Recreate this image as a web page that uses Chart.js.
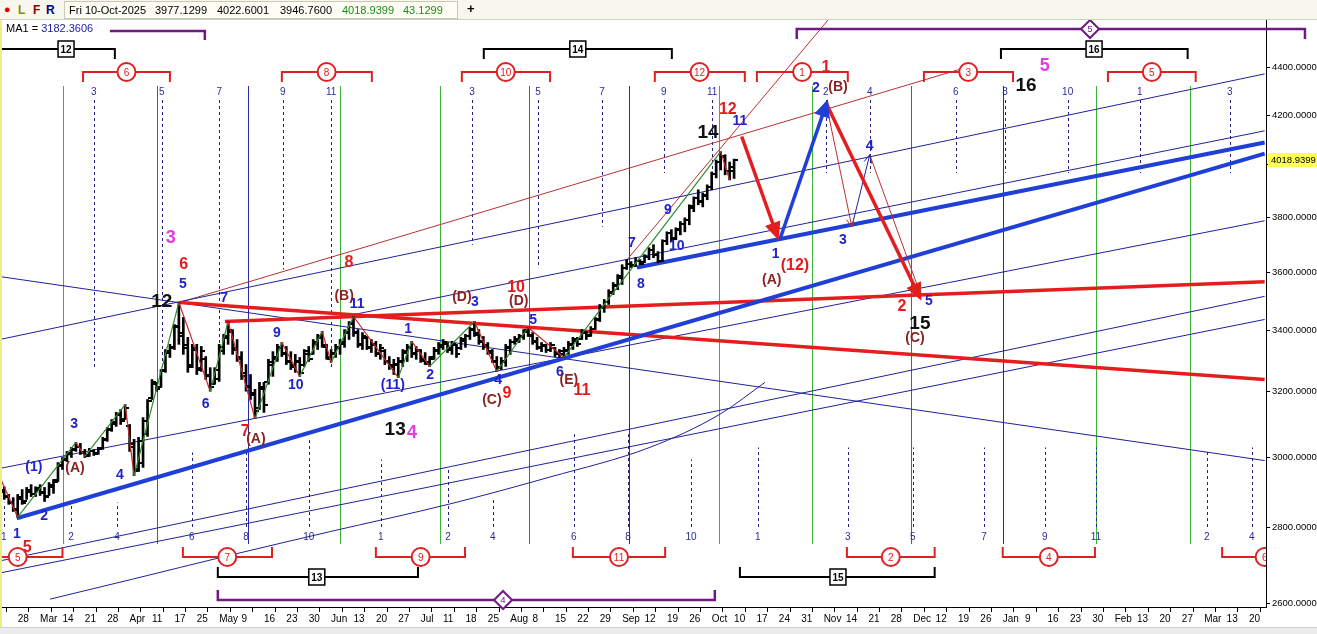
<!DOCTYPE html>
<html lang="en">
<head>
<meta charset="UTF-8" />
<meta name="viewport" content="width=device-width, initial-scale=1.0" />
<title>Wave Count - Daily</title>
<script src="https://cdn.jsdelivr.net/npm/chart.js"></script>
<style>
  body { margin: 0; background: #fff; font-family: "Liberation Sans", Arial, sans-serif; }
  #wrap { position: relative; width: 1317px; height: 634px; overflow: hidden; }
  #chart { position: absolute; left: 0; top: 0; }
  #toolbar { position: absolute; left: 0; top: 0; width: 1317px; height: 19px; background: #f7f7ee; border-bottom: 1px solid #cfcfc0; font-size: 11px; }
  #toolbar span { position: absolute; top: 3px; white-space: nowrap; }
  #quote { position: absolute; left: 64px; top: 1px; width: 392px; height: 16px; background: #fdfdf3; border: 1px solid #c8c8b8; }
  #quote span { top: 2px; }
  #ma { position: absolute; left: 6px; top: 22px; font-size: 11px; color: #000; }
  #ma b { font-weight: normal; color: #1a1aa0; }
  #frameL { position: absolute; left: 0; top: 20px; width: 2px; height: 614px; background: #eeee88; }
  #status { position: absolute; left: 0; top: 627px; width: 1317px; height: 7px; background: #ececec; border-top: 1px solid #d0d0d0; }
</style>
</head>
<body>
<div id="wrap">
  <canvas id="chart" width="1317" height="634"></canvas>
  <div id="toolbar">
    <span style="left:4px;color:#e00000">●</span>
    <span style="left:18px;color:#8c8c00;font-weight:bold;font-size:12px">L</span>
    <span style="left:33px;color:#8b0000;font-weight:bold;font-size:12px">F</span>
    <span style="left:46px;color:#00007a;font-weight:bold;font-size:12px">R</span>
    <div id="quote">
      <span style="left:4px">Fri 10-Oct-2025</span>
      <span style="left:90px">3977.1299</span>
      <span style="left:152px">4022.6001</span>
      <span style="left:215px">3946.7600</span>
      <span style="left:277px;color:#1e8c1e">4018.9399</span>
      <span style="left:338px;color:#1e8c1e">43.1299</span>
    </div>
    <span style="left:467px;font-weight:bold;font-size:13px;top:1px">+</span>
  </div>
  <div id="ma">MA1 = <b>3182.3606</b></div>
  <div id="frameL"></div>
  <div id="status"></div>
</div>

<script>
  // daily bars, first bar is 4 sessions before Fri 28-Feb-2025 (day 0)
  const dayStart = -4;
  const barOpen = [
    2935,2905,2888,2870,2848,2880,2875,2900,2895,2905,
    2900,2890,2915,2935,2975,2995,3010,3022,3030,3012,
    3006,3018,3012,3028,3052,3082,3100,3128,3115,3095,
    3040,2965,2985,3070,3180,3225,3215,3268,3325,3340,
    3415,3390,3350,3285,3335,3275,3305,3255,3225,3240,
    3330,3375,3395,3340,3310,3260,3220,3195,3150,3210,
    3230,3285,3305,3340,3325,3300,3285,3295,3285,3320,
    3322,3355,3380,3345,3305,3320,3340,3355,3390,3425,
    3395,3350,3375,3340,3350,3325,3330,3300,3285,3285,
    3295,3325,3340,3325,3330,3305,3290,3310,3330,3345,
    3355,3340,3350,3340,3365,3380,3405,3385,3365,3350,
    3325,3295,3280,3295,3340,3360,3365,3378,3400,3380,
    3365,3340,3348,3335,3340,3325,3320,3330,3350,3365,
    3370,3390,3385,3405,3435,3475,3495,3525,3550,3580,
    3615,3630,3625,3638,3635,3655,3680,3662,3640,3710,
    3740,3722,3752,3775,3790,3835,3870,3858,3880,3915,
    3965,4010,4030,3975,3977.13
  ];
  const barHigh = [
    2944,2915,2893,2884,2893,2907,2913,2921,2915,2921,
    2913,2927,2936,2985,3000,3018,3030,3045,3042,3024,
    3027,3024,3030,3060,3090,3114,3136,3145,3160,3099,
    3054,3060,3120,3176,3239,3230,3271,3336,3353,3419,
    3494,3443,3376,3353,3353,3346,3313,3277,3277,3353,
    3386,3429,3402,3369,3329,3287,3255,3208,3230,3230,
    3304,3329,3353,3359,3346,3329,3320,3310,3336,3346,
    3369,3386,3396,3353,3336,3353,3369,3402,3429,3446,
    3402,3392,3379,3369,3363,3353,3336,3313,3304,3310,
    3336,3353,3363,3346,3336,3326,3313,3343,3359,3369,
    3359,3363,3353,3376,3386,3409,3429,3402,3379,3359,
    3336,3313,3310,3353,3369,3379,3386,3402,3409,3392,
    3376,3359,3353,3359,3343,3336,3343,3363,3376,3376,
    3402,3396,3412,3443,3487,3504,3538,3563,3591,3626,
    3644,3637,3651,3644,3662,3687,3698,3673,3716,3745,
    3753,3760,3783,3797,3846,3876,3903,3891,3922,3972,
    4019,4052,4040,4011,4022.60
  ];
  const barLow = [
    2893,2879,2865,2845,2829,2865,2879,2887,2887,2890,
    2873,2890,2896,2930,2965,2988,3000,3018,3009,3000,
    3003,3006,3009,3024,3048,3078,3093,3099,3114,3018,
    2947,2959,2971,3063,3176,3202,3214,3262,3310,3336,
    3353,3320,3262,3277,3255,3265,3239,3202,3224,3233,
    3320,3353,3320,3297,3239,3202,3176,3117,3145,3136,
    3224,3249,3297,3313,3287,3271,3262,3249,3281,3297,
    3320,3336,3343,3304,3294,3310,3320,3343,3369,3379,
    3343,3336,3336,3326,3313,3304,3287,3271,3255,3245,
    3281,3297,3310,3304,3294,3287,3281,3304,3320,3336,
    3326,3320,3310,3336,3343,3369,3379,3353,3336,3320,
    3294,3265,3271,3281,3320,3353,3359,3369,3379,3353,
    3336,3329,3326,3329,3313,3310,3310,3320,3336,3346,
    3369,3369,3379,3402,3429,3460,3487,3521,3538,3556,
    3609,3616,3619,3626,3633,3644,3651,3633,3637,3698,
    3709,3716,3734,3745,3771,3820,3846,3838,3865,3903,
    3949,3980,3961,3941,3946.76
  ];
  const barClose = [
    2900,2885,2872,2852,2885,2870,2905,2895,2910,2898,
    2885,2920,2930,2978,2992,3012,3025,3030,3015,3005,
    3020,3010,3026,3055,3085,3108,3130,3110,3150,3030,
    2960,3050,3110,3170,3230,3210,3265,3330,3345,3410,
    3380,3340,3280,3340,3270,3330,3250,3215,3270,3345,
    3380,3400,3335,3305,3250,3215,3190,3140,3215,3160,
    3295,3310,3345,3320,3295,3280,3300,3260,3330,3305,
    3360,3375,3350,3310,3325,3345,3360,3395,3420,3390,
    3355,3380,3345,3355,3320,3340,3295,3280,3290,3300,
    3330,3345,3320,3335,3300,3295,3305,3335,3350,3360,
    3335,3355,3320,3370,3380,3400,3390,3360,3345,3330,
    3300,3275,3300,3345,3360,3370,3380,3395,3385,3360,
    3345,3350,3335,3350,3320,3330,3335,3355,3370,3355,
    3395,3380,3405,3438,3480,3495,3530,3555,3585,3615,
    3630,3622,3640,3630,3655,3680,3660,3640,3710,3740,
    3720,3755,3775,3790,3840,3870,3860,3885,3915,3965,
    4010,4035,3975,3990,4018.94
  ];
  const lastPrice = 4018.9399;

  // MA1 curve [day, price]
  const ma1 = [[7.2,2610],[25.7,2662],[47,2724],[69.7,2789],[96.5,2866],[118.9,2943],
    [141.2,3030],[156.8,3130],[166.9,3230]];

  // weekly axis labels, one every 5 sessions from 28-Feb-2025
  const weekLabels = ['28','Mar','14','21','28','Apr','11','17','25','May','9','16','23','30',
    'Jun','13','20','27','Jul','11','18','25','Aug','8','15','22','29','Sep','12','19','26',
    'Oct','10','17','24','31','Nov','14','21','28','Dec','12','19','26','Jan','9','16','23','30',
    'Feb','13','20','27','Mar','13','20'];
  const priceTicks = [2600, 2800, 3000, 3200, 3400, 3600, 3800, 4000, 4200, 4400];

  // wave pivots [day, price]
  const wavePivots = [[-4,2944],[0,2829],[13,3045],[15,3003],[24,3160],[26,2947],[36,3494],
    [43,3202],[47,3429],[53,3117],[59,3359],[63,3249],[68,3396],[70,3294],[75,3446],[85,3245],
    [88,3363],[92,3281],[102,3429],[107,3265],[114,3409],[122,3310],[157,4052],[159,3941]];

  // trend lines [day, price] end points
  const blueThickLow = [[-0.2,2826],[278.5,4044]];
  const blueThickHigh = [[138.3,3616],[278.5,4089]];
  const blueThinA = [[-4,2968],[278.5,3786]];
  const blueThinB = [[-4,3369],[278.5,4374]];
  const blueThinC = [[-4,3584],[278.5,2991]];
  const blueThinD = [[74.2,3450],[278.5,4136]];
  const blueThinE1 = [[-4,2710],[278.5,3515]];
  const blueThinE2 = [[-4,2678],[278.5,3436]];
  const redThinF = [[36.2,3494],[211.5,4400]];
  const redThinG = [[136.1,3644],[181.4,4622]];
  const redThickR1 = [[36.2,3494],[278.5,3239]];
  const redThickR2 = [[46.3,3429],[278.5,3566]];

  // projected path
  const projA = [[161.7,4113],[169.7,3727]];
  const projB = [[170.2,3716],[180.7,4252]];
  const projC = [[180.7,4244],[201.5,3511]];
  const projSub1 = [[180.7,4236],[186.3,3764]];
  const projSub2 = [[186.3,3764],[190.3,4040]];
  const projSub3 = [[190.3,4040],[201.5,3528]];

  // time cycle markers
  const greenDays = [10.1, 72, 94.3, 156.6, 177.4, 240.8, 261.8];
  const redDays = [31.1, 114.2, 199.5];
  const blueDays = [51.4, 136.5, 220];
  const topCycles = [[17,'3',3271],[32.2,'5',3271],[45,'7',3271],[59.2,'9',3609],[70,'11',3271],
    [101.5,'3',3698],[116.2,'5',3619],[130.5,'7',3764],[144.3,'9',3968],[155.1,'11',3968],
    [180.5,'2',3968],[190.3,'4',3968],[209.5,'6',3968],[220.5,'8',3968],[234.5,'10',3968],
    [250.6,'1',3968],[270.7,'3',3968]];
  const bottomCycles = [[-3.1,'1',2870],[11.9,'2',2870],[22.2,'4',2870],[38.9,'6',3015],
    [51,'8',3015],[65,'10',3054],[81.1,'1',2994],[96.1,'2',2965],[106.1,'4',2879],[124.2,'6',3069],
    [136.3,'8',3069],[150.4,'10',2994],[165.3,'1',3030],[185.4,'3',3030],[199.9,'5',3030],
    [215.8,'7',3030],[229.4,'9',3030],[240.8,'11',3030],[265.6,'2',3024],[275.6,'4',3030]];

  // brackets [start day, end day, label day, text]
  const topRed = [[14.6,34,24.3,'6'],[59,79.1,69,'8'],[99.2,118.9,109,'10'],[142.3,162.4,152.3,'12'],
    [165.1,185.4,175.2,'1'],[202.4,222.3,212.3,'3'],[243.5,263.1,253.3,'5']];
  const bottomRed = [[-10,10,0,'5'],[36.9,56.8,46.8,'7'],[80,99.9,90,'9'],[124,144.6,134.3,'11'],
    [185.2,204.8,195,'2'],[220,240.6,230.3,'4'],[269,288,278.5,'6']];
  const topBlack = [[-12,21.7,10.8,'12'],[104.1,146.1,125.1,'14'],[219.6,261.3,240.4,'16']];
  const bottomBlack = [[44.7,89.4,66.8,'13'],[161.3,204.8,183.2,'15']];
  const topPurple = [[174,287.5,239.5,'5']];
  const bottomPurple = [[44.7,155.7,108.4,'4']];
  const maBracket = [20.6, 41.8];

  // wave labels [day, price, text, style]
  const waveLabels = [
    [-0.2,2783,'1','blue'],[2.1,2745,'5','red'],[5.9,2832,'2','blue'],[3.6,2971,'(1)','blue'],
    [12.8,2968,'(A)','brown'],[12.6,3099,'3','blue'],[22.8,2947,'4','blue'],[34.2,3723,'3','pink'],
    [37.1,3626,'6','red'],[36.9,3556,'5','blue'],[32.2,3497,'12','black'],[46.1,3508,'7','blue'],
    [42,3160,'6','blue'],[50.8,3078,'7','red'],[53.2,3054,'(A)','brown'],[57.9,3389,'9','blue'],
    [62.1,3220,'10','blue'],[74,3633,'8','red'],[72.9,3515,'(B)','brown'],[75.8,3487,'11','blue'],
    [87.2,3405,'1','blue'],[83.8,3220,'(11)','blue'],[92.1,3252,'2','blue'],[84.3,3084,'13','black'],
    [88.05,3072,'4','pink'],[99.2,3511,'(D)','brown'],[102.1,3494,'3','blue'],[111.3,3545,'10','red'],
    [111.9,3497,'(D)','brown'],[115.1,3433,'5','blue'],[107.3,3236,'4','blue'],[105.9,3173,'(C)','brown'],
    [109.3,3195,'9','red'],[121.1,3262,'6','blue'],[123.1,3236,'(E)','brown'],[126,3205,'11','red'],
    [137.2,3702,'7','blue'],[139.2,3559,'8','blue'],[145.2,3827,'9','blue'],[147.2,3694,'10','blue'],
    [154.2,4130,'14','black'],[158.6,4222,'12','red'],[161.3,4175,'11','blue'],[169.3,3665,'1','blue'],
    [173.6,3623,'(12)','red'],[168.4,3570,'(A)','brown'],[178.3,4312,'2','blue'],[183.2,4316,'(B)','brown'],
    [180.5,4400,'1','red'],[190.3,4075,'4','blue'],[184.3,3713,'3','blue'],[197.5,3480,'2','red'],
    [203.5,3497,'5','blue'],[201.5,3422,'15','black'],[200.4,3372,'(C)','brown'],[225.2,4324,'16','black'],
    [229.4,4409,'5','pink']
  ];

  const FONT = '"Liberation Sans", Arial, sans-serif';
  const labelStyle = {
    blue: ['bold 14px ' + FONT, '#2222cc'],
    brown: ['bold 14px ' + FONT, '#8a2222'],
    red: ['bold 16px ' + FONT, '#e41b1b'],
    black: ['bold 19px ' + FONT, '#111111'],
    pink: ['bold 18px ' + FONT, '#e03ce0']
  };

  const toXY = a => a.map(p => ({ x: p[0], y: p[1] }));
  function lineSet(points, color, width, order, extra) {
    return Object.assign({
      type: 'line', data: toXY(points), borderColor: color, borderWidth: width,
      pointRadius: 0, fill: false, tension: 0, order: order
    }, extra || {});
  }

  const navy = '#20209a', royal = '#1f3fd6', red = '#e41e1e', thinRed = '#b83030';
  const datasets = [
    {
      type: 'bar',
      data: barLow.map((lo, i) => ({ x: dayStart + i, y: [lo, barHigh[i]] })),
      backgroundColor: '#000', borderWidth: 0, barThickness: 2, grouped: false, order: 3
    },
    lineSet(wavePivots, '#2e8b2e', 1.2, 1, {
      segment: { borderColor: c => c.p1.parsed.y >= c.p0.parsed.y ? '#2e8b2e' : '#c62828' }
    }),
    lineSet(ma1, navy, 1, 5, { tension: 0.4, cubicInterpolationMode: 'monotone' }),
    lineSet(blueThickLow, royal, 4, 4),
    lineSet(blueThickHigh, royal, 4, 4),
    lineSet(blueThinA, navy, 1, 5),
    lineSet(blueThinB, navy, 1, 5),
    lineSet(blueThinC, navy, 1, 5),
    lineSet(blueThinD, navy, 1, 5),
    lineSet(blueThinE1, navy, 1, 5),
    lineSet(blueThinE2, navy, 1, 5),
    lineSet(redThinF, thinRed, 1, 5),
    lineSet(redThinG, thinRed, 1, 5),
    lineSet(redThickR1, red, 3.5, 4),
    lineSet(redThickR2, red, 3.5, 4),
    lineSet(projA, red, 3.5, 0, { arrow: 'solid' }),
    lineSet(projB, royal, 3.5, 0, { arrow: 'solid' }),
    lineSet(projC, red, 3.5, 0, { arrow: 'solid' }),
    lineSet(projSub1, thinRed, 1, 0, { arrow: 'open' }),
    lineSet(projSub2, navy, 1, 0, { arrow: 'open' }),
    lineSet(projSub3, thinRed, 1, 0, { arrow: 'open' })
  ];

  function bracket(ctx, x1, x2, y, dir, color, width) {
    ctx.strokeStyle = color;
    ctx.lineWidth = width;
    ctx.beginPath();
    ctx.moveTo(x1, y + dir * 10);
    ctx.lineTo(x1, y);
    ctx.lineTo(x2, y);
    ctx.lineTo(x2, y + dir * 10);
    ctx.stroke();
  }

  const overlay = {
    id: 'overlay',
    beforeDatasetsDraw(chart) {
      const { ctx, chartArea: a, scales: { x, y } } = chart;
      ctx.save();
      ctx.lineWidth = 1;
      [[greenDays, '#3cb43c'], [redDays, '#c83232'], [blueDays, '#2a2aa8']].forEach(([list, color]) => {
        ctx.strokeStyle = color;
        list.forEach(d => {
          const px = Math.round(x.getPixelForValue(d)) + 0.5;
          ctx.beginPath(); ctx.moveTo(px, a.top + 66); ctx.lineTo(px, a.bottom - 63); ctx.stroke();
        });
      });
      ctx.strokeStyle = '#20208a';
      ctx.setLineDash([3, 3]);
      topCycles.forEach(([d, t, p]) => {
        const px = Math.round(x.getPixelForValue(d)) + 0.5;
        ctx.beginPath(); ctx.moveTo(px, a.top + 80); ctx.lineTo(px, y.getPixelForValue(p)); ctx.stroke();
      });
      bottomCycles.forEach(([d, t, p]) => {
        const px = Math.round(x.getPixelForValue(d)) + 0.5;
        ctx.beginPath(); ctx.moveTo(px, a.bottom - 80); ctx.lineTo(px, y.getPixelForValue(p)); ctx.stroke();
      });
      ctx.setLineDash([]);
      ctx.fillStyle = '#2a2a9a';
      ctx.font = '10px ' + FONT;
      ctx.textAlign = 'center';
      ctx.textBaseline = 'middle';
      topCycles.forEach(([d, t]) => ctx.fillText(t, x.getPixelForValue(d), a.top + 72));
      bottomCycles.forEach(([d, t]) => ctx.fillText(t, x.getPixelForValue(d), a.bottom - 70));
      ctx.restore();
    },
    afterDatasetDraw(chart, args) {
      if (args.index !== 0) return;
      const { ctx, scales: { x, y } } = chart;
      ctx.save();
      ctx.fillStyle = '#000';
      barOpen.forEach((o, i) => {
        const px = Math.round(x.getPixelForValue(dayStart + i));
        ctx.fillRect(px - 4, Math.round(y.getPixelForValue(o)) - 1, 4, 2);
        ctx.fillRect(px, Math.round(y.getPixelForValue(barClose[i])) - 1, 4, 2);
      });
      ctx.restore();
    },
    afterDatasetsDraw(chart) {
      const { ctx, chartArea: a, scales: { x, y } } = chart;
      ctx.save();
      // arrow heads
      chart.data.datasets.forEach((ds, i) => {
        if (!ds.arrow) return;
        const pts = chart.getDatasetMeta(i).data;
        const p0 = pts[pts.length - 2], p1 = pts[pts.length - 1];
        const ang = Math.atan2(p1.y - p0.y, p1.x - p0.x);
        const len = ds.arrow === 'solid' ? 14 : 9, spread = ds.arrow === 'solid' ? 0.42 : 0.45;
        ctx.strokeStyle = ds.borderColor; ctx.fillStyle = ds.borderColor;
        ctx.lineWidth = ds.arrow === 'solid' ? 3 : 1;
        ctx.beginPath();
        ctx.moveTo(p1.x - len * Math.cos(ang - spread), p1.y - len * Math.sin(ang - spread));
        ctx.lineTo(p1.x, p1.y);
        ctx.lineTo(p1.x - len * Math.cos(ang + spread), p1.y - len * Math.sin(ang + spread));
        if (ds.arrow === 'solid') { ctx.closePath(); ctx.fill(); }
        ctx.stroke();
      });
      // wave labels
      ctx.textAlign = 'center';
      ctx.textBaseline = 'middle';
      waveLabels.forEach(([d, p, t, s]) => {
        ctx.font = labelStyle[s][0];
        ctx.fillStyle = labelStyle[s][1];
        ctx.fillText(t, x.getPixelForValue(d), y.getPixelForValue(p));
      });
      // red circled brackets
      ctx.save();
      ctx.beginPath(); ctx.rect(a.left, 0, a.right - a.left, chart.height); ctx.clip();
      const circled = (list, yy, dir) => list.forEach(([s, e, m, t]) => {
        const cx = x.getPixelForValue(m);
        bracket(ctx, x.getPixelForValue(s), x.getPixelForValue(e), yy, dir, '#e02020', 2);
        ctx.beginPath(); ctx.arc(cx, yy, 9, 0, Math.PI * 2);
        ctx.fillStyle = '#fff'; ctx.fill(); ctx.stroke();
        ctx.fillStyle = '#e02020'; ctx.font = '10px ' + FONT;
        ctx.fillText(t, cx, yy + 1);
      });
      circled(topRed, a.top + 52, 1);
      circled(bottomRed, a.bottom - 50, -1);
      const boxed = (list, yy, dir) => list.forEach(([s, e, m, t]) => {
        const cx = x.getPixelForValue(m);
        bracket(ctx, x.getPixelForValue(s), x.getPixelForValue(e), yy, dir, '#000', 2);
        ctx.fillStyle = '#fff'; ctx.fillRect(cx - 8, yy - 8, 16, 16);
        ctx.lineWidth = 1.5; ctx.strokeRect(cx - 8, yy - 8, 16, 16);
        ctx.fillStyle = '#000'; ctx.font = 'bold 10px ' + FONT;
        ctx.fillText(t, cx, yy + 1);
      });
      boxed(topBlack, a.top + 29, 1);
      boxed(bottomBlack, a.bottom - 30, -1);
      ctx.restore();
      // purple diamond brackets
      const purple = '#6e1a80';
      const diamond = (list, yy, dir) => list.forEach(([s, e, m, t]) => {
        const cx = x.getPixelForValue(m);
        bracket(ctx, x.getPixelForValue(s), x.getPixelForValue(e), yy, dir, purple, 2.5);
        ctx.beginPath();
        ctx.moveTo(cx, yy - 9); ctx.lineTo(cx + 9, yy); ctx.lineTo(cx, yy + 9); ctx.lineTo(cx - 9, yy);
        ctx.closePath(); ctx.fillStyle = '#fff'; ctx.fill(); ctx.lineWidth = 2; ctx.stroke();
        ctx.fillStyle = purple; ctx.font = '9px ' + FONT;
        ctx.fillText(t, cx, yy + 1);
      });
      diamond(topPurple, a.top + 9, 1);
      diamond(bottomPurple, a.bottom - 7, -1);
      ctx.strokeStyle = purple; ctx.lineWidth = 2.5;
      ctx.beginPath();
      ctx.moveTo(x.getPixelForValue(maBracket[0]), a.top + 11);
      ctx.lineTo(x.getPixelForValue(maBracket[1]), a.top + 11);
      ctx.lineTo(x.getPixelForValue(maBracket[1]), a.top + 20);
      ctx.stroke();
      ctx.restore();
    },
    afterDraw(chart) {
      const { ctx, chartArea: a, scales: { y } } = chart;
      const py = Math.round(y.getPixelForValue(lastPrice));
      ctx.save();
      ctx.fillStyle = '#ffff55';
      ctx.fillRect(a.right + 2, py - 7, chart.width - a.right - 2, 14);
      ctx.fillStyle = '#000';
      ctx.font = '9.5px ' + FONT;
      ctx.textAlign = 'left';
      ctx.textBaseline = 'middle';
      ctx.fillText(lastPrice.toFixed(4), a.right + 5, py);
      ctx.restore();
    }
  };

  const tickFont = { family: FONT, size: 10 };
  new Chart(document.getElementById('chart'), {
    type: 'bar',
    data: { datasets: datasets },
    options: {
      responsive: false,
      animation: false,
      events: [],
      layout: { padding: { top: 20, left: 0, right: 0, bottom: 0 } },
      plugins: { legend: { display: false }, tooltip: { enabled: false } },
      scales: {
        x: {
          type: 'linear', min: -3.95, max: 278.8, offset: false,
          grid: { drawOnChartArea: false, tickLength: 5, color: '#000' },
          border: { display: true, color: '#000' },
          ticks: { autoSkip: false, maxRotation: 0, align: 'start', padding: 1, color: '#000', font: tickFont,
            callback: (v, i) => weekLabels[i] },
          afterBuildTicks: s => { s.ticks = weekLabels.map((_, i) => ({ value: i * 5 })); },
          afterFit: s => { s.height = 27; }
        },
        y: {
          type: 'logarithmic', position: 'right', min: 2590, max: 4612,
          grid: { drawOnChartArea: false, tickLength: 4, color: '#000' },
          border: { display: true, color: '#000' },
          ticks: { color: '#000', padding: 2, font: { family: FONT, size: 9.5 },
            callback: v => Number(v).toFixed(4) },
          afterBuildTicks: s => { s.ticks = priceTicks.map(v => ({ value: v })); },
          afterFit: s => { s.width = 51; }
        }
      }
    },
    plugins: [overlay]
  });
</script>
</body>
</html>
